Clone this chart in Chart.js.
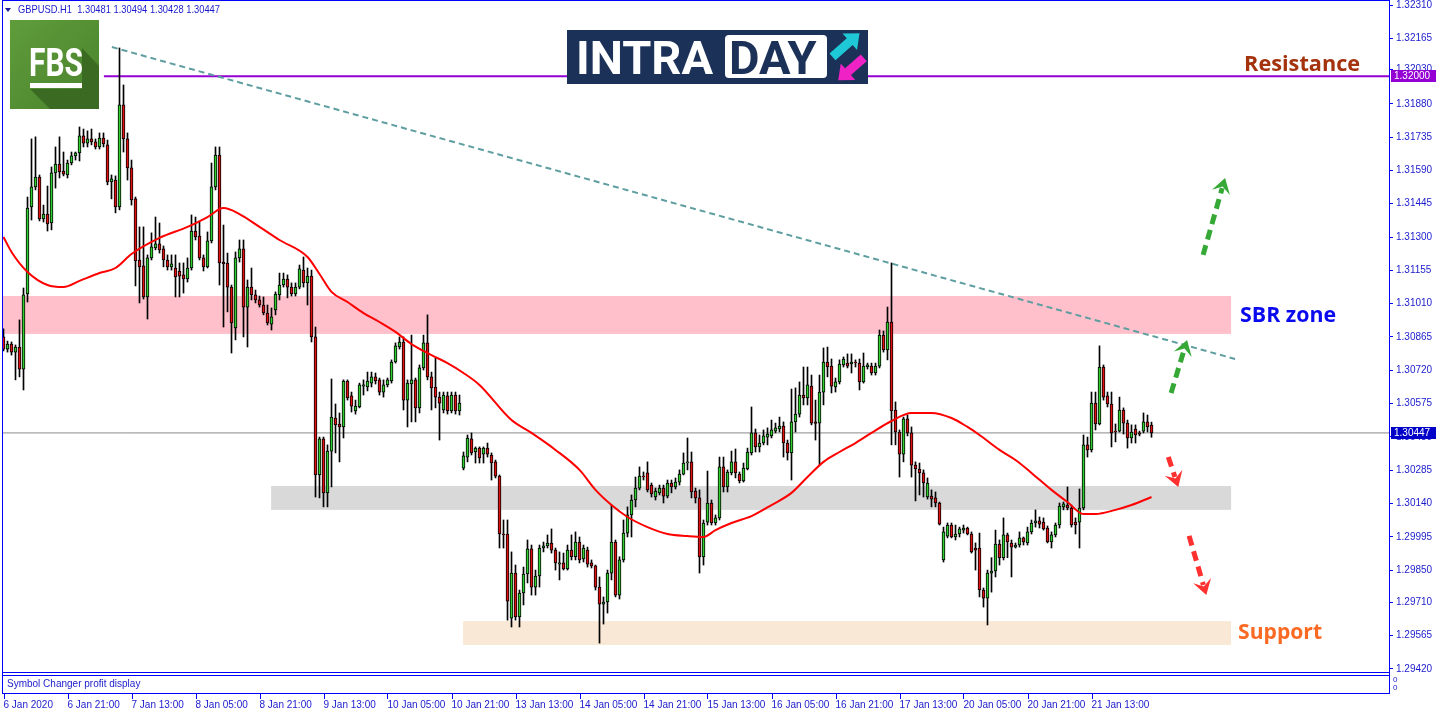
<!DOCTYPE html>
<html><head><meta charset="utf-8">
<script src="https://cdn.jsdelivr.net/npm/chart.js@4.4.1/dist/chart.umd.min.js"></script>
<style>html,body{margin:0;padding:0;background:#fff;overflow:hidden}canvas{display:block}</style>
</head><body>
<canvas id="c" width="1436" height="716"></canvas>
<script>
// ---------- DATA (GBPUSD H1, one value per hourly bar) ----------
const symbolName = 'GBPUSD.H1';
const opens = [
1.30865,1.30812,1.30834,1.30799,1.30821,1.30725,1.31052,1.31431,1.31518,1.31561,
1.31379,1.31400,1.31361,1.31579,1.31618,1.31587,1.31570,1.31622,1.31653,1.31666,
1.31740,1.31709,1.31727,1.31714,1.31692,1.31731,1.31701,1.31540,1.31548,1.31431,
1.31875,1.31727,1.31601,1.31466,1.31200,1.31174,1.31039,1.31209,1.31252,1.31270,
1.31248,1.31200,1.31170,1.31165,1.31152,1.31135,1.31117,1.31165,1.31326,1.31304,
1.31209,1.31170,1.31283,1.31518,1.31657,1.31191,1.31187,1.31082,1.30904,1.31209,
1.31248,1.30995,1.31082,1.31048,1.31026,1.31004,1.30969,1.30921,1.30982,1.31048,
1.31091,1.31117,1.31082,1.31052,1.31082,1.31156,1.31100,1.31130,1.30865,1.30264,
1.30421,1.30186,1.30368,1.30512,1.30486,1.30473,1.30673,1.30608,1.30543,1.30560,
1.30651,1.30647,1.30664,1.30691,1.30678,1.30625,1.30656,1.30673,1.30756,1.30821,
1.30843,1.30590,1.30660,1.30678,1.30556,1.30730,1.30839,1.30691,1.30647,1.30603,
1.30547,1.30608,1.30543,1.30612,1.30543,1.30294,1.30342,1.30421,1.30364,1.30381,
1.30355,1.30381,1.30351,1.30321,1.30259,1.30007,1.30007,1.29641,1.29837,1.29646,
1.29750,1.29833,1.29942,1.29776,1.29824,1.29946,1.29955,1.29968,1.29937,1.29876,
1.29881,1.29855,1.29937,1.29908,1.29972,1.29898,1.29937,1.29881,1.29868,1.29776,
1.29702,1.29711,1.29837,1.29972,1.29741,1.29894,1.30011,1.30090,1.30155,1.30207,
1.30259,1.30273,1.30220,1.30168,1.30186,1.30207,1.30172,1.30229,1.30212,1.30233,
1.30268,1.30316,1.30321,1.30194,1.30164,1.29907,1.30059,1.30142,1.30055,1.30077,
1.30299,1.30212,1.30273,1.30321,1.30268,1.30238,1.30290,1.30360,1.30447,1.30386,
1.30403,1.30429,1.30434,1.30455,1.30464,1.30477,1.30403,1.30360,1.30495,1.30529,
1.30612,1.30599,1.30651,1.30495,1.30490,1.30625,1.30756,1.30738,1.30647,1.30669,
1.30743,1.30751,1.30747,1.30756,1.30751,1.30669,1.30734,1.30738,1.30708,1.30738,
1.30873,1.30808,1.30930,1.30547,1.30451,1.30355,1.30508,1.30447,1.30307,1.30290,
1.30273,1.30168,1.30172,1.30164,1.30142,1.29894,1.29998,1.30046,1.29994,1.30007,
1.30024,1.30033,1.30007,1.29946,1.29946,1.29763,1.29728,1.29837,1.29846,1.29963,
1.29904,1.30003,1.29968,1.29950,1.29959,1.29990,1.29968,1.30016,1.30055,1.30064,
1.30059,1.30033,1.29972,1.30003,1.30046,1.30125,1.30133,1.30120,1.30059,1.30059,
1.30120,1.30395,1.30373,1.30577,1.30486,1.30734,1.30608,1.30573,1.30455,1.30455,
1.30547,1.30490,1.30425,1.30464,1.30447,1.30455,1.30495,1.30481];
const highs = [
1.30900,1.30847,1.30843,1.30830,1.30939,1.31078,1.31474,1.31727,1.31736,1.31570,
1.31439,1.31522,1.31605,1.31692,1.31736,1.31670,1.31635,1.31670,1.31670,1.31779,
1.31770,1.31762,1.31770,1.31727,1.31753,1.31753,1.31722,1.31570,1.31566,1.32123,
1.31962,1.31753,1.31635,1.31474,1.31344,1.31344,1.31222,1.31318,1.31387,1.31361,
1.31261,1.31222,1.31222,1.31222,1.31187,1.31187,1.31209,1.31396,1.31387,1.31365,
1.31222,1.31322,1.31622,1.31692,1.31692,1.31352,1.31230,1.31091,1.31235,1.31287,
1.31287,1.31113,1.31165,1.31069,1.31043,1.31039,1.31004,1.30991,1.31061,1.31143,
1.31143,1.31135,1.31100,1.31100,1.31178,1.31213,1.31165,1.31156,1.30908,1.30429,
1.30429,1.30395,1.30682,1.30573,1.30534,1.30678,1.30678,1.30625,1.30590,1.30664,
1.30678,1.30712,1.30712,1.30708,1.30686,1.30678,1.30686,1.30765,1.30839,1.30865,
1.30865,1.30678,1.30873,1.30686,1.30743,1.30873,1.30961,1.30712,1.30773,1.30625,
1.30625,1.30625,1.30625,1.30625,1.30612,1.30364,1.30438,1.30447,1.30386,1.30386,
1.30386,1.30403,1.30360,1.30329,1.30264,1.30068,1.30068,1.29929,1.29872,1.29763,
1.29863,1.29981,1.29959,1.29850,1.29959,1.29972,1.30003,1.30029,1.29946,1.29929,
1.29924,1.29959,1.30003,1.30016,1.29994,1.29959,1.29950,1.29894,1.29872,1.29820,
1.29733,1.29850,1.30133,1.29981,1.29908,1.30068,1.30125,1.30177,1.30255,1.30299,
1.30277,1.30321,1.30229,1.30207,1.30220,1.30220,1.30242,1.30242,1.30251,1.30286,
1.30360,1.30425,1.30364,1.30207,1.30199,1.30068,1.30281,1.30155,1.30090,1.30342,
1.30342,1.30286,1.30368,1.30377,1.30277,1.30316,1.30381,1.30560,1.30464,1.30438,
1.30460,1.30469,1.30503,1.30490,1.30516,1.30495,1.30416,1.30638,1.30643,1.30669,
1.30734,1.30734,1.30699,1.30590,1.30699,1.30817,1.30821,1.30769,1.30686,1.30765,
1.30778,1.30791,1.30791,1.30765,1.30769,1.30795,1.30751,1.30751,1.30751,1.30895,
1.30891,1.30995,1.31187,1.30582,1.30460,1.30516,1.30525,1.30473,1.30321,1.30316,
1.30286,1.30251,1.30199,1.30190,1.30146,1.30037,1.30055,1.30055,1.30046,1.30037,
1.30046,1.30037,1.30016,1.29968,1.30011,1.29772,1.29850,1.29904,1.30024,1.29981,
1.30077,1.30011,1.29981,1.29968,1.30016,1.29994,1.30037,1.30068,1.30112,1.30081,
1.30077,1.30042,1.30016,1.30055,1.30142,1.30146,1.30212,1.30133,1.30077,1.30203,
1.30438,1.30429,1.30625,1.30625,1.30826,1.30743,1.30625,1.30625,1.30486,1.30603,
1.30556,1.30503,1.30482,1.30482,1.30455,1.30534,1.30525,1.30494];
const lows = [
1.30804,1.30799,1.30786,1.30678,1.30691,1.30634,1.31017,1.31374,1.31505,1.31370,
1.31365,1.31326,1.31331,1.31513,1.31557,1.31566,1.31557,1.31614,1.31635,1.31631,
1.31692,1.31692,1.31701,1.31683,1.31683,1.31692,1.31527,1.31466,1.31405,1.31418,
1.31670,1.31548,1.31439,1.31087,1.31013,1.31030,1.30943,1.31200,1.31244,1.31230,
1.31170,1.31156,1.31156,1.31039,1.31039,1.31056,1.31104,1.31156,1.31287,1.31200,
1.31152,1.31165,1.31274,1.31505,1.31091,1.30908,1.30974,1.30795,1.30852,1.31191,
1.30865,1.30821,1.31026,1.31013,1.30995,1.30961,1.30917,1.30895,1.30961,1.31026,
1.31082,1.31035,1.31043,1.31043,1.31074,1.31082,1.31004,1.30843,1.30168,1.30164,
1.30125,1.30125,1.30212,1.30360,1.30321,1.30425,1.30590,1.30538,1.30529,1.30556,
1.30612,1.30630,1.30647,1.30660,1.30612,1.30603,1.30647,1.30664,1.30751,1.30812,
1.30547,1.30473,1.30495,1.30495,1.30534,1.30721,1.30678,1.30547,1.30556,1.30416,
1.30534,1.30529,1.30534,1.30529,1.30525,1.30286,1.30321,1.30351,1.30316,1.30316,
1.30316,1.30342,1.30242,1.30251,1.29946,1.29946,1.29632,1.29602,1.29632,1.29602,
1.29698,1.29794,1.29741,1.29741,1.29776,1.29929,1.29946,1.29924,1.29850,1.29807,
1.29850,1.29850,1.29894,1.29894,1.29881,1.29885,1.29863,1.29859,1.29763,1.29532,
1.29615,1.29663,1.29807,1.29733,1.29724,1.29885,1.29994,1.29994,1.30125,1.30199,
1.30242,1.30190,1.30168,1.30155,1.30177,1.30142,1.30164,1.30186,1.30203,1.30220,
1.30264,1.30286,1.30164,1.30142,1.29837,1.29872,1.30046,1.30046,1.30046,1.30068,
1.30190,1.30190,1.30264,1.30251,1.30229,1.30233,1.30286,1.30351,1.30364,1.30364,
1.30395,1.30395,1.30425,1.30447,1.30451,1.30342,1.30329,1.30242,1.30451,1.30516,
1.30569,1.30569,1.30482,1.30416,1.30307,1.30569,1.30691,1.30621,1.30625,1.30660,
1.30734,1.30730,1.30708,1.30734,1.30634,1.30664,1.30725,1.30699,1.30699,1.30730,
1.30799,1.30765,1.30395,1.30395,1.30255,1.30321,1.30434,1.30255,1.30151,1.30177,
1.30168,1.30159,1.30125,1.30125,1.30046,1.29885,1.29990,1.29990,1.29981,1.29994,
1.30011,1.30003,1.29924,1.29850,1.29733,1.29689,1.29611,1.29754,1.29820,1.29872,
1.29894,1.29904,1.29820,1.29946,1.29950,1.29959,1.29959,1.30007,1.30037,1.30033,
1.30024,1.29968,1.29946,1.29994,1.30033,1.30112,1.30112,1.30037,1.30007,1.29946,
1.30112,1.30342,1.30364,1.30460,1.30482,1.30590,1.30560,1.30386,1.30408,1.30451,
1.30442,1.30381,1.30403,1.30403,1.30434,1.30447,1.30451,1.30428];
const closes = [
1.30812,1.30834,1.30799,1.30821,1.30725,1.31048,1.31426,1.31518,1.31561,1.31379,
1.31400,1.31357,1.31579,1.31618,1.31583,1.31574,1.31622,1.31653,1.31666,1.31740,
1.31709,1.31727,1.31714,1.31692,1.31731,1.31705,1.31540,1.31553,1.31431,1.31875,
1.31727,1.31601,1.31461,1.31196,1.31170,1.31039,1.31209,1.31257,1.31270,1.31244,
1.31200,1.31170,1.31183,1.31126,1.31130,1.31117,1.31165,1.31326,1.31300,1.31209,
1.31170,1.31283,1.31518,1.31657,1.31187,1.31183,1.31082,1.30926,1.31209,1.31248,
1.30995,1.31082,1.31048,1.31026,1.31004,1.30969,1.30926,1.30952,1.31052,1.31091,
1.31117,1.31082,1.31052,1.31082,1.31161,1.31100,1.31130,1.30865,1.30264,1.30421,
1.30186,1.30368,1.30516,1.30482,1.30473,1.30673,1.30599,1.30564,1.30564,1.30656,
1.30656,1.30673,1.30691,1.30673,1.30625,1.30656,1.30678,1.30756,1.30826,1.30843,
1.30590,1.30664,1.30678,1.30556,1.30730,1.30839,1.30691,1.30643,1.30603,1.30577,
1.30612,1.30543,1.30612,1.30543,1.30577,1.30347,1.30425,1.30360,1.30381,1.30338,
1.30381,1.30355,1.30316,1.30259,1.30007,1.30003,1.29715,1.29837,1.29646,1.29750,
1.29833,1.29942,1.29776,1.29824,1.29946,1.29955,1.29968,1.29937,1.29881,1.29881,
1.29855,1.29937,1.29908,1.29972,1.29894,1.29946,1.29876,1.29868,1.29776,1.29702,
1.29711,1.29837,1.29972,1.29741,1.29894,1.30011,1.30090,1.30155,1.30207,1.30259,
1.30255,1.30199,1.30181,1.30194,1.30207,1.30172,1.30229,1.30212,1.30233,1.30268,
1.30316,1.30321,1.30190,1.30164,1.29907,1.30055,1.30142,1.30055,1.30077,1.30299,
1.30212,1.30277,1.30321,1.30273,1.30238,1.30294,1.30364,1.30447,1.30386,1.30403,
1.30434,1.30442,1.30460,1.30469,1.30477,1.30403,1.30360,1.30495,1.30529,1.30612,
1.30599,1.30656,1.30490,1.30488,1.30625,1.30756,1.30734,1.30651,1.30669,1.30747,
1.30769,1.30738,1.30756,1.30752,1.30669,1.30738,1.30743,1.30708,1.30738,1.30873,
1.30808,1.30930,1.30543,1.30451,1.30355,1.30508,1.30447,1.30307,1.30290,1.30273,
1.30229,1.30229,1.30159,1.30142,1.30050,1.30016,1.30046,1.29994,1.30007,1.30029,
1.30033,1.30007,1.29929,1.29937,1.29763,1.29728,1.29837,1.29846,1.29963,1.29904,
1.30003,1.29972,1.29950,1.29959,1.29990,1.29972,1.30016,1.30055,1.30064,1.30050,
1.30029,1.29972,1.30003,1.30046,1.30129,1.30138,1.30120,1.30046,1.30046,1.30120,
1.30395,1.30373,1.30577,1.30486,1.30734,1.30603,1.30573,1.30447,1.30451,1.30547,
1.30490,1.30425,1.30451,1.30438,1.30442,1.30495,1.30473,1.30447];

// moving average (bar index -> price)
const maIdx = [0,2,6,11,15,19,24,28,32,39,46,51,55,59,64,69,76,79,82,86,90,94,98,102,107,111,115,119,127,132,138,144,148,152,156,161,166,171,175,178,182,187,192,197,201,205,209,213,217,222,227,232,237,241,244,249,253,257,262,266,270,273,278,282,287];
const maVal = [1.31300,1.31235,1.31148,1.31091,1.31082,1.31109,1.31143,1.31165,1.31226,1.31296,1.31344,1.31387,1.31426,1.31400,1.31344,1.31287,1.31213,1.31139,1.31061,1.31017,1.30969,1.30930,1.30887,1.30834,1.30786,1.30751,1.30708,1.30656,1.30503,1.30447,1.30373,1.30286,1.30199,1.30133,1.30081,1.30037,1.30007,1.29998,1.29994,1.30024,1.30055,1.30085,1.30133,1.30186,1.30255,1.30321,1.30364,1.30403,1.30447,1.30499,1.30534,1.30534,1.30512,1.30473,1.30438,1.30373,1.30329,1.30273,1.30199,1.30146,1.30094,1.30094,1.30112,1.30133,1.30168];

// time axis labels (every 16 bars)
const timeTickIdx = [0,16,32,48,64,80,96,112,128,144,160,176,192,208,224,240,256,272];
const timeLabels = ['6 Jan 2020','6 Jan 21:00','7 Jan 13:00','8 Jan 05:00','8 Jan 21:00','9 Jan 13:00','10 Jan 05:00','10 Jan 21:00','13 Jan 13:00','14 Jan 05:00','14 Jan 21:00','15 Jan 13:00','16 Jan 05:00','16 Jan 21:00','17 Jan 13:00','20 Jan 05:00','20 Jan 21:00','21 Jan 13:00'];
// price axis labels
const priceTicks = [1.32310,1.32165,1.32030,1.31880,1.31735,1.31590,1.31445,1.31300,1.31155,1.31010,1.30865,1.30720,1.30575,1.30430,1.30285,1.30140,1.29995,1.29850,1.29710,1.29565,1.29420];

// annotations
const resistanceLevel = 1.32000;
const resistanceFromIdx = 25.1;
const trendIdx = [27.1, 307.9];
const trendVal = [1.32127, 1.30769];
const zoneLabels = ['SBR zone', '', 'Support'];
const zoneFromIdx = [-0.125, 66.9, 114.9];
const zoneToIdx = [306.9, 306.9, 306.9];
const zoneHigh = [1.31043, 1.30216, 1.29628];
const zoneLow = [1.30878, 1.30112, 1.29524];
const arrowFromIdx = [299.9, 291.9, 291.2, 296.4];
const arrowFromVal = [1.31222, 1.30621, 1.30342, 1.29999];
const arrowToIdx = [305.4, 295.9, 293.7, 300.7];
const arrowToVal = [1.31557, 1.30852, 1.30212, 1.29741];
const arrowUp = [true, true, false, false];

// ---------- CHART ----------
const N = opens.length;
const lastPrice = closes[N - 1];
const bodies = [], wicks = [], bodyColors = [];
for (let i = 0; i < N; i++) {
  bodies.push({x: i, y: [opens[i], closes[i]]});
  wicks.push({x: i, y: [lows[i], highs[i]]});
  bodyColors.push(closes[i] >= opens[i] ? '#2fcf2f' : '#e01010');
}
const X_MIN = -0.125, X_MAX = 346.375;
const Y_MAX = 1.323318, Y_MIN = 1.294062;
const AX = '#0000ff', TXT = '#1a1acc';
const FONT = "Tahoma, 'Liberation Sans', Arial, sans-serif";

function dashedArrow(ctx, x1, y1, x2, y2, color) {
  const ang = Math.atan2(y2 - y1, x2 - x1);
  const head = 15;
  ctx.save();
  ctx.strokeStyle = color; ctx.lineWidth = 5; ctx.setLineDash([10, 6]);
  ctx.beginPath(); ctx.moveTo(x1, y1);
  ctx.lineTo(x2 - Math.cos(ang) * head * 0.7, y2 - Math.sin(ang) * head * 0.7);
  ctx.stroke();
  ctx.setLineDash([]);
  ctx.translate(x2, y2); ctx.rotate(ang);
  ctx.beginPath(); ctx.moveTo(0, 0); ctx.lineTo(-head, -head * 0.62);
  ctx.lineTo(-head * 0.6, 0); ctx.lineTo(-head, head * 0.62); ctx.closePath();
  ctx.fillStyle = color; ctx.fill();
  ctx.restore();
}
function blockArrow(ctx, cx, cy, ang, len, shaft, headW, headL, color) {
  ctx.save(); ctx.translate(cx, cy); ctx.rotate(ang);
  ctx.beginPath();
  ctx.moveTo(-len / 2, -shaft / 2); ctx.lineTo(len / 2 - headL, -shaft / 2);
  ctx.lineTo(len / 2 - headL, -headW / 2); ctx.lineTo(len / 2, 0);
  ctx.lineTo(len / 2 - headL, headW / 2); ctx.lineTo(len / 2 - headL, shaft / 2);
  ctx.lineTo(-len / 2, shaft / 2); ctx.closePath();
  ctx.fillStyle = color; ctx.fill(); ctx.restore();
}

const overlay = {
  id: 'overlay',
  beforeDatasetsDraw(chart) {
    const {ctx, scales: {x, y}, chartArea: a} = chart;
    const colors = ['#ffc0cb', '#d9d9d9', '#f9e8d5'];
    ctx.save();
    ctx.beginPath(); ctx.rect(a.left, a.top, a.right - a.left, a.bottom - a.top); ctx.clip();
    for (let k = 0; k < zoneHigh.length; k++) {
      const x1 = x.getPixelForValue(zoneFromIdx[k]), x2 = x.getPixelForValue(zoneToIdx[k]);
      const y1 = y.getPixelForValue(zoneHigh[k]), y2 = y.getPixelForValue(zoneLow[k]);
      ctx.fillStyle = colors[k];
      ctx.fillRect(x1, y1, x2 - x1, y2 - y1);
    }
    ctx.restore();
  },
  afterDatasetsDraw(chart) {
    const {ctx, scales: {x, y}} = chart;
    for (let k = 0; k < arrowFromIdx.length; k++) {
      dashedArrow(ctx, x.getPixelForValue(arrowFromIdx[k]), y.getPixelForValue(arrowFromVal[k]),
        x.getPixelForValue(arrowToIdx[k]), y.getPixelForValue(arrowToVal[k]),
        arrowUp[k] ? '#35a835' : '#ff3030');
    }
    ctx.save();
    ctx.font = "bold 22px 'Open Sans', 'Liberation Sans', sans-serif";
    ctx.textBaseline = 'middle';
    const zx = x.getPixelForValue(zoneToIdx[0]);
    ctx.fillStyle = '#0a0aee';
    ctx.fillText(zoneLabels[0], zx + 9, (y.getPixelForValue(zoneHigh[0]) + y.getPixelForValue(zoneLow[0])) / 2 + 1, 96);
    ctx.fillStyle = '#fb6a23';
    ctx.fillText(zoneLabels[2], zx + 7, (y.getPixelForValue(zoneHigh[2]) + y.getPixelForValue(zoneLow[2])) / 2, 84);
    ctx.fillStyle = '#a3320d';
    ctx.fillText('Resistance', zx + 13, y.getPixelForValue(resistanceLevel) - 11, 116);
    ctx.restore();
  },
  afterDraw(chart) {
    const {ctx, scales: {x, y}} = chart;
    ctx.save();
    // frame
    ctx.strokeStyle = AX; ctx.lineWidth = 1;
    ctx.beginPath();
    ctx.moveTo(2.5, 0); ctx.lineTo(2.5, 694);
    ctx.moveTo(2, 0.5); ctx.lineTo(1390, 0.5);
    ctx.moveTo(2, 672.5); ctx.lineTo(1390, 672.5);
    ctx.moveTo(2, 675.5); ctx.lineTo(1390, 675.5);
    ctx.moveTo(2, 693.5); ctx.lineTo(1390, 693.5);
    ctx.moveTo(1389.5, 672); ctx.lineTo(1389.5, 694);
    ctx.stroke();
    // x tick marks
    ctx.beginPath();
    x.ticks.forEach(t => { const px = Math.round(x.getPixelForValue(t.value)) + 0.5; ctx.moveTo(px, 694); ctx.lineTo(px, 699); });
    ctx.stroke();
    // sub window text
    ctx.fillStyle = TXT; ctx.font = '10px ' + FONT; ctx.textBaseline = 'middle';
    ctx.fillText('Symbol Changer profit display', 7, 684);
    ctx.font = '8px ' + FONT;
    ctx.fillText('0', 1393, 680); ctx.fillText('0', 1393, 688);
    // header
    ctx.fillStyle = '#1a1a9a';
    ctx.beginPath(); ctx.moveTo(5, 8); ctx.lineTo(11, 8); ctx.lineTo(8, 12); ctx.closePath(); ctx.fill();
    ctx.fillStyle = TXT; ctx.font = '11px ' + FONT;
    ctx.fillText(symbolName + '  ' + [opens[N-1], highs[N-1], lows[N-1], closes[N-1]].map(v => v.toFixed(5)).join(' '), 18, 10, 202);
    // price tags
    const tag = (price, bg) => {
      const py = Math.round(y.getPixelForValue(price));
      ctx.fillStyle = bg; ctx.fillRect(1391, py - 6, 45, 12);
      ctx.fillStyle = '#ffffff'; ctx.font = '10px ' + FONT; ctx.textBaseline = 'middle';
      ctx.fillText(price.toFixed(5), 1394, py + 0.5);
    };
    tag(resistanceLevel, '#9400d3');
    tag(lastPrice, '#0000c8');
    // FBS logo
    const g = ctx.createLinearGradient(10, 20, 99, 109);
    g.addColorStop(0, '#5f9d3c'); g.addColorStop(1, '#4a822c');
    ctx.fillStyle = g; ctx.fillRect(10, 20, 89, 89);
    ctx.fillStyle = '#3b6a22';
    ctx.beginPath(); ctx.moveTo(30, 89); ctx.lineTo(82, 89); ctx.lineTo(82, 48); ctx.lineTo(99, 66); ctx.lineTo(99, 109); ctx.lineTo(50, 109); ctx.closePath(); ctx.fill();
    ctx.fillStyle = '#ffffff';
    ctx.font = "bold 39px 'Liberation Sans Narrow', 'Roboto', sans-serif";
    ctx.textBaseline = 'alphabetic'; ctx.textAlign = 'center';
    ctx.fillText('FBS', 56, 76, 54);
    ctx.fillRect(30, 83, 52, 5);
    ctx.textAlign = 'left';
    // INTRADAY logo
    ctx.fillStyle = '#1b3157'; ctx.fillRect(567, 30, 301, 54);
    ctx.fillStyle = '#ffffff';
    ctx.font = "bold 47px 'Roboto', 'Open Sans', sans-serif";
    ctx.fillText('INTRA', 576, 74, 148);
    ctx.beginPath(); ctx.roundRect(725, 35, 102, 43, 4); ctx.fill();
    ctx.fillStyle = '#1b3157';
    ctx.fillText('DAY', 729, 74, 95);
    blockArrow(ctx, 846, 45, -0.72, 36, 9, 22, 13, '#1fc8d6');
    blockArrow(ctx, 851, 69, 2.42, 34, 9, 22, 13, '#ef22c6');
    ctx.restore();
  }
};

new Chart(document.getElementById('c'), {
  type: 'bar',
  data: {
    datasets: [
      {type: 'line', label: 'MA', data: maIdx.map((v, k) => ({x: v, y: maVal[k]})), borderColor: '#ff0000', borderWidth: 2, pointRadius: 0, cubicInterpolationMode: 'monotone', order: 0},
      {label: 'Body', data: bodies, backgroundColor: bodyColors, borderColor: '#000000', borderWidth: 1, borderSkipped: false, barThickness: 3, grouped: false, order: 1},
      {label: 'Wick', data: wicks, backgroundColor: '#000000', borderWidth: 0, barThickness: 1, grouped: false, order: 2},
      {type: 'line', label: 'Trend', data: trendIdx.map((v, k) => ({x: v, y: trendVal[k]})), borderColor: '#5f9ea0', borderWidth: 2, borderDash: [6, 4], pointRadius: 0, order: 3},
      {type: 'line', label: 'Resistance', data: [{x: resistanceFromIdx, y: resistanceLevel}, {x: X_MAX, y: resistanceLevel}], borderColor: '#9400d3', borderWidth: 2, pointRadius: 0, order: 4},
      {type: 'line', label: 'Last', data: [{x: X_MIN, y: lastPrice}, {x: X_MAX, y: lastPrice}], borderColor: '#8a8a8a', borderWidth: 1, pointRadius: 0, order: 5}
    ]
  },
  options: {
    responsive: false, animation: false, devicePixelRatio: 1,
    layout: {padding: {left: 3, right: 0, top: 0, bottom: 0}},
    plugins: {legend: {display: false}, tooltip: {enabled: false}},
    scales: {
      x: {
        type: 'linear', min: X_MIN, max: X_MAX, offset: false,
        afterBuildTicks: s => { s.ticks = timeTickIdx.map(v => ({value: v})); },
        afterFit: s => { s.height = 44; s.paddingLeft = 0; s.paddingRight = 0; s.paddingTop = 0; s.paddingBottom = 0; },
        ticks: {autoSkip: false, maxRotation: 0, minRotation: 0, align: 'start', padding: 19, color: TXT, font: {family: FONT, size: 10}, callback: (v, i) => timeLabels[i]},
        grid: {display: false, offset: false}, border: {display: false}
      },
      y: {
        type: 'linear', position: 'right', min: Y_MIN, max: Y_MAX,
        afterBuildTicks: s => { s.ticks = priceTicks.map(v => ({value: v})); },
        afterFit: s => { s.width = 47; s.paddingTop = 0; s.paddingBottom = 0; s.paddingLeft = 0; s.paddingRight = 0; },
        ticks: {autoSkip: false, padding: 3, color: TXT, font: {family: FONT, size: 10}, callback: v => Number(v).toFixed(5)},
        grid: {drawOnChartArea: false, drawTicks: true, tickLength: 4, color: AX},
        border: {display: true, color: AX, width: 1}
      }
    }
  },
  plugins: [overlay]
});
</script>
</body></html>
